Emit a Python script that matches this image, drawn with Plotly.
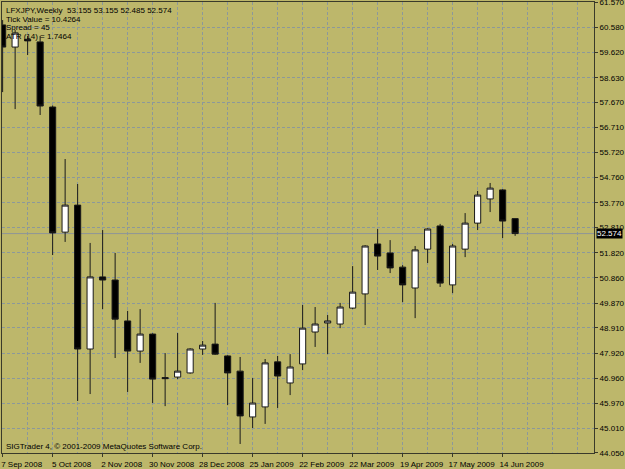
import plotly.graph_objects as go
import pandas as pd

# ---- data -----------------------------------------------------------------
DATES = pd.date_range("2008-09-07", periods=42, freq="7D")
OPEN = [60.68, 59.82, 60.12, 60.02, 57.49, 52.63, 53.68, 48.09, 50.89, 50.77,
        49.18, 48.01, 48.67, 46.98, 47.00, 47.16, 48.09, 48.28, 47.82, 47.23,
        45.45, 45.84, 47.59, 46.77, 47.51, 48.75, 49.10, 49.06, 49.68, 50.23,
        52.17, 51.82, 51.27, 50.46, 51.97, 52.87, 50.58, 51.97, 52.98, 53.92,
        54.27, 53.155]
HIGH = [60.87, 60.48, 60.25, 60.25, 57.55, 55.47, 54.50, 52.21, 52.71, 51.82,
        49.57, 49.64, 48.70, 47.93, 48.71, 48.12, 48.40, 49.88, 47.85, 47.78,
        46.96, 47.70, 47.82, 47.89, 49.80, 49.72, 49.41, 49.88, 51.31, 52.12,
        52.75, 52.32, 51.35, 52.09, 52.78, 52.95, 52.17, 53.37, 54.23, 54.54,
        54.30, 53.155]
LOW = [58.07, 57.41, 59.51, 57.18, 51.74, 52.25, 46.07, 46.34, 49.64, 47.74,
       46.42, 47.55, 45.99, 45.87, 46.92, 47.13, 47.86, 47.86, 45.91, 44.40,
       45.02, 45.18, 45.80, 46.30, 47.27, 48.17, 47.89, 48.90, 49.64, 49.02,
       51.16, 51.04, 49.91, 49.29, 51.43, 50.50, 50.26, 51.66, 52.71, 53.41,
       52.40, 52.485]
CLOSE = [59.82, 60.37, 60.06, 57.53, 52.60, 53.68, 48.09, 50.89, 50.77, 49.25,
         48.01, 48.67, 46.92, 46.94, 47.23, 48.09, 48.24, 47.89, 47.16, 45.49,
         45.99, 47.55, 47.04, 47.39, 48.90, 49.06, 49.18, 49.72, 50.30, 52.09,
         51.70, 51.24, 50.58, 51.94, 52.75, 50.65, 52.09, 52.98, 54.07, 54.34,
         53.06, 52.574]
Y_TICKS = [61.570, 60.580, 59.620, 58.630, 57.670, 56.710, 55.720, 54.760,
           53.770, 52.810, 51.820, 50.860, 49.870, 48.910, 47.920, 46.960,
           45.970, 45.010, 44.050]
CURRENT_PRICE = 52.574
HEADER_LINES = ["LFXJPY,Weekly  53.155 53.155 52.485 52.574",
                "Tick Value = 10.4264",
                "Spread = 45",
                "ATR (14) = 1.7464"]
FOOTER = "SIGTrader 4, © 2001-2009 MetaQuotes Software Corp."

# ---- style ----------------------------------------------------------------
BG = "#BDB76B"
GRID = "#8c989a"
GRID_DASH = "3px,2px"
AXIS = "#3a3a2a"
FONT = dict(family="Liberation Sans, Arial, sans-serif", size=8, color="black")

x_tickvals = list(DATES[::4])
x_ticktext = [f"{d.day} {d.strftime('%b %Y')}" for d in x_tickvals]
week = pd.Timedelta(days=7)

fig = go.Figure()
fig.add_trace(go.Candlestick(
    x=DATES, open=OPEN, high=HIGH, low=LOW, close=CLOSE,
    increasing=dict(fillcolor="white", line=dict(color="#1a1a1a", width=1)),
    decreasing=dict(fillcolor="black", line=dict(color="#1a1a1a", width=1)),
    whiskerwidth=0, showlegend=False, hoverinfo="skip",
))

fig.add_shape(type="line", xref="paper", x0=0, x1=1, yref="y",
              y0=CURRENT_PRICE, y1=CURRENT_PRICE,
              line=dict(color="#8f9696", width=1), layer="below")

fig.add_annotation(text=f"{CURRENT_PRICE:.3f}",
                   xref="paper", x=1, xanchor="left", xshift=2,
                   yref="y", y=CURRENT_PRICE, yanchor="middle",
                   showarrow=False, bgcolor="black", borderpad=0,
                   font=dict(family=FONT["family"], size=8, color="white"))

for i, line in enumerate(HEADER_LINES):
    fig.add_annotation(text=line, xref="paper", yref="paper", x=0, xshift=3,
                       y=1, yshift=-(3 + 8.7 * i), xanchor="left", yanchor="top",
                       showarrow=False, font=FONT, borderpad=0)

fig.add_annotation(text=FOOTER, xref="paper", yref="paper", x=0, xshift=3,
                   y=0, yshift=1, xanchor="left", yanchor="bottom",
                   showarrow=False, font=FONT, borderpad=0)

fig.update_layout(
    width=625, height=469,
    margin=dict(l=2, r=31, t=2, b=16, pad=0, autoexpand=False),
    paper_bgcolor=BG, plot_bgcolor=BG,
    font=FONT,
    showlegend=False,
    xaxis=dict(
        type="date", automargin=False,
        range=[DATES[0] - 0.05 * week, DATES[0] + 47.31 * week],
        tickmode="array", tickvals=x_tickvals, ticktext=x_ticktext,
        ticks="outside", ticklen=3, tickcolor=AXIS, tickfont=FONT,
        ticklabelshift=19, ticklabelstandoff=0,
        showline=True, linecolor=AXIS, linewidth=1, mirror=True,
        showgrid=True, gridcolor=GRID, griddash=GRID_DASH, gridwidth=1,
        minor=dict(tick0=DATES[0], dtick=14 * 86400000, showgrid=True,
                   gridcolor=GRID, griddash=GRID_DASH, gridwidth=1, ticks=""),
        rangeslider=dict(visible=False), zeroline=False, fixedrange=True,
    ),
    yaxis=dict(
        side="right", automargin=False,
        range=[Y_TICKS[-1] - 0.0005, Y_TICKS[0] + 0.0005],
        tickmode="array", tickvals=Y_TICKS,
        ticktext=[f"{v:.3f}" for v in Y_TICKS],
        ticks="outside", ticklen=3, tickcolor=AXIS, tickfont=FONT,
        ticklabeloverflow="allow",
        showline=True, linecolor=AXIS, linewidth=1, mirror=True,
        showgrid=True, gridcolor=GRID, griddash=GRID_DASH, gridwidth=1,
        zeroline=False, fixedrange=True,
    ),
)

fig.write_html("out.html")
